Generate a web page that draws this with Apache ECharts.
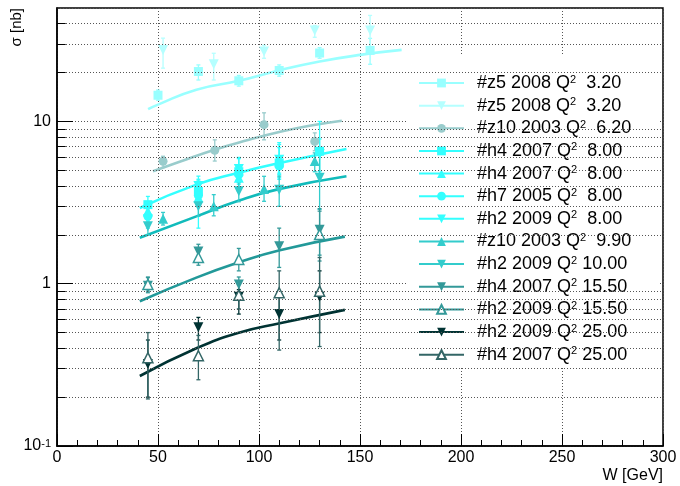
<!DOCTYPE html>
<html>
<head>
<meta charset="utf-8">
<script src="https://cdn.jsdelivr.net/npm/echarts@6/dist/echarts.min.js"></script>
<style>
  html, body { margin: 0; background: #fff; }
  #main { width: 680px; height: 486px; }
</style>
</head>
<body>
<div id="main"></div>
<script>
// points: [W, sigma, sigma low, sigma high]
const z5_2008_sq  = [[50, 14.5, 13.5, 15.6], [70, 20.3, 18.0, 22.3], [90, 17.8, 16.5, 19.2], [110, 20.6, 19.0, 22.3], [130, 26.4, 24.5, 28.5], [155, 27.4, 22.5, 32.5]];
const z5_2008_tri = [[52.5, 27.6, 21.3, 32.6], [77.6, 22.5, 18.0, 26.3], [102.5, 27.0, 24.5, 29.5], [127.6, 36.3, 33.0, 39.0], [155, 36.3, 28.0, 45.0]];
const z10_2003_62 = [[52.5, 5.68, 5.2, 6.1], [78.1, 6.64, 5.7, 7.7], [102.5, 9.55, 7.7, 11.3], [127.6, 7.53, 6.6, 8.5]];
const h4_2007_8_sq  = [[45, 3.07, 2.7, 3.45], [70, 3.7, 3.1, 4.3], [90, 4.9, 4.1, 5.9], [110, 5.55, 4.4, 7.2], [130, 6.55, 4.5, 10.0]];
const h4_2007_8_tri = [[45, 2.8, 2.4, 3.1], [70, 3.4, 2.2, 4.4], [90, 4.5, 3.7, 5.4], [110, 5.75, 4.5, 7.4]];
const h7_2005_8   = [[45, 2.6, 2.3, 2.9], [70, 3.5, 3.1, 3.9], [90, 4.7, 4.2, 5.2], [110, 5.3, 4.7, 5.9]];
const h2_2009_8   = [[45, 2.5, 2.2, 2.8], [70, 4.0, 3.4, 4.6], [90, 5.1, 4.3, 6.0], [110, 5.8, 4.8, 6.9], [130, 6.3, 4.9, 7.8]];
const z10_2003_99 = [[52.5, 2.51, 2.3, 2.75], [77.6, 3.0, 2.62, 3.54], [102.5, 3.84, 3.22, 4.59], [127.6, 5.7, 4.9, 6.4]];
const h2_2009_10  = [[45, 2.26, 2.0, 2.5], [70, 3.0, 2.6, 3.4], [90, 3.71, 3.2, 4.2], [110, 3.8, 3.0, 4.6], [130, 4.49, 2.87, 6.2]];
const h4_2007_155 = [[45, 0.97, 0.9, 1.09], [70, 1.58, 1.4, 1.75], [90, 0.99, 0.88, 1.1], [110, 1.70, 1.26, 2.2], [130, 2.15, 1.38, 2.9]];
const h2_2009_155 = [[45, 0.99, 0.88, 1.1], [70, 1.45, 1.3, 1.65], [90, 1.41, 1.2, 1.65], [130, 2.01, 1.5, 2.8]];
const h2_2009_25  = [[45, 0.32, 0.2, 0.45], [70, 0.54, 0.45, 0.62], [90, 0.83, 0.65, 0.92], [110, 0.65, 0.45, 0.85], [130, 0.83, 0.5, 1.2]];
const h4_2007_25  = [[45, 0.35, 0.195, 0.5], [70, 0.36, 0.256, 0.48], [90, 0.85, 0.7, 1.0], [110, 0.88, 0.39, 1.2], [130, 0.90, 0.41, 1.45]];

// fit curves: [W, sigma]
const fit_320 = [[45.1, 11.9], [50, 12.7], [69, 15.7], [90, 17.8], [110.3, 20.7], [130, 23.4], [150, 25.7], [170.6, 27.6]];
const fit_620 = [[47.5, 4.93], [60, 5.6], [78, 6.7], [95, 7.7], [110, 8.6], [125, 9.4], [141, 10.1]];
const fit_800 = [[41, 2.93], [69, 4.08], [90.5, 4.85], [110.3, 5.55], [143.3, 6.76]];
const fit_990 = [[41, 1.92], [69, 2.6], [90.5, 3.27], [110.3, 3.84], [143.3, 4.59]];
const fit_155 = [[41, 0.78], [69, 1.09], [90.5, 1.36], [110.3, 1.61], [142.5, 1.95]];
const fit_250 = [[41, 0.27], [69, 0.40], [90.5, 0.50], [110.3, 0.57], [142.5, 0.69]];

const yMinor = [0.2, 0.3, 0.4, 0.5, 0.6, 0.7, 0.8, 0.9, 2, 3, 4, 5, 6, 7, 8, 9, 20, 30, 40];

const sets = [
  { key: 'z5sq',  label: '#z5 2008 Q{s|2}  3.20',  data: z5_2008_sq,  color: '#99ffff', symbol: 'rect' },
  { key: 'z5tri', label: '#z5 2008 Q{s|2}  3.20',  data: z5_2008_tri, color: '#b5ffff', symbol: 'triangle', rot: 180 },
  { key: 'z1062', label: '#z10 2003 Q{s|2}  6.20', data: z10_2003_62, color: '#99cccc', symbol: 'circle' },
  { key: 'h4sq8', label: '#h4 2007 Q{s|2}  8.00',  data: h4_2007_8_sq, color: '#33ffff', symbol: 'rect' },
  { key: 'h4tr8', label: '#h4 2007 Q{s|2}  8.00',  data: h4_2007_8_tri, color: '#33ffff', symbol: 'triangle' },
  { key: 'h78',   label: '#h7 2005 Q{s|2}  8.00',  data: h7_2005_8,   color: '#33ffff', symbol: 'circle' },
  { key: 'h28',   label: '#h2 2009 Q{s|2}  8.00',  data: h2_2009_8,   color: '#33ffff', symbol: 'triangle', rot: 180 },
  { key: 'z1099', label: '#z10 2003 Q{s|2}  9.90', data: z10_2003_99, color: '#33cccc', symbol: 'triangle' },
  { key: 'h210',  label: '#h2 2009 Q{s|2} 10.00',  data: h2_2009_10,  color: '#33cccc', symbol: 'triangle', rot: 180 },
  { key: 'h4155', label: '#h4 2007 Q{s|2} 15.50',  data: h4_2007_155, color: '#339999', symbol: 'triangle', rot: 180 },
  { key: 'h2155', label: '#h2 2009 Q{s|2} 15.50',  data: h2_2009_155, color: '#339999', symbol: 'triangle', open: true },
  { key: 'h225',  label: '#h2 2009 Q{s|2} 25.00',  data: h2_2009_25,  color: '#003333', symbol: 'triangle', rot: 180 },
  { key: 'h425',  label: '#h4 2007 Q{s|2} 25.00',  data: h4_2007_25,  color: '#336666', symbol: 'triangle', open: true }
];

const fits = [
  { data: fit_320, color: '#99ffff' },
  { data: fit_620, color: '#99cccc' },
  { data: fit_800, color: '#33ffff' },
  { data: fit_990, color: '#11bbbb' },
  { data: fit_155, color: '#229999' },
  { data: fit_250, color: '#003333' }
];

const LABEL = {};
sets.forEach(s => { LABEL[s.key] = s.label; });

// error bar with small end caps
function errorBar(color) {
  return function (params, api) {
    const x = api.value(0);
    const a = api.coord([x, api.value(2)]);
    const b = api.coord([x, api.value(3)]);
    const st = { stroke: color, lineWidth: 1.3 };
    return {
      type: 'group',
      children: [
        { type: 'line', shape: { x1: a[0], y1: a[1], x2: b[0], y2: b[1] }, style: st },
        { type: 'line', shape: { x1: a[0] - 2, y1: a[1], x2: a[0] + 2, y2: a[1] }, style: st },
        { type: 'line', shape: { x1: b[0] - 2, y1: b[1], x2: b[0] + 2, y2: b[1] }, style: st }
      ]
    };
  };
}

const series = [];

// minor grid lines and minor y ticks
series.push({
  type: 'line',
  data: [],
  z: 1,
  silent: true,
  markLine: {
    silent: true,
    symbol: 'none',
    label: { show: false },
    lineStyle: { color: '#555', type: [1, 2], width: 1 },
    data: yMinor.map(v => ({ yAxis: v }))
  }
});
series.push({
  type: 'line',
  data: [],
  z: 6,
  silent: true,
  markLine: {
    silent: true,
    symbol: 'none',
    label: { show: false },
    lineStyle: { color: '#000', type: 'solid', width: 1 },
    data: yMinor.map(v => [{ coord: [0, v] }, { coord: [4.3, v] }])
  }
});

fits.forEach(f => {
  series.push({
    type: 'line',
    data: f.data,
    smooth: true,
    symbol: 'none',
    z: 2,
    silent: true,
    lineStyle: { color: f.color, width: 2.6 }
  });
});

sets.forEach(s => {
  series.push({
    type: 'custom',
    data: s.data,
    encode: { x: 0, y: 1 },
    z: 3,
    silent: true,
    renderItem: errorBar(s.color)
  });
});

sets.forEach(s => {
  const tri = s.symbol === 'triangle';
  series.push({
    name: s.key,
    type: 'line',
    data: s.data.map(d => [d[0], d[1]]),
    symbol: s.symbol,
    symbolSize: tri ? 10 : 9,
    symbolRotate: s.rot || 0,
    showSymbol: true,
    z: 4,
    silent: true,
    lineStyle: { color: s.color, width: 2, opacity: 0 },
    itemStyle: s.open
      ? { color: '#fff', borderColor: s.color, borderWidth: 1.5 }
      : { color: s.color, borderWidth: 0 }
  });
});

const myChart = echarts.init(document.getElementById('main'));
myChart.setOption({
  animation: false,
  backgroundColor: '#fff',
  textStyle: { fontFamily: 'Liberation Sans' },
  grid: {
    left: 57, right: 17, top: 8, bottom: 40,
    show: true, borderColor: '#000', borderWidth: 1.5, backgroundColor: 'transparent'
  },
  graphic: [{
    type: 'text',
    left: 9, top: 8,
    rotation: Math.PI / 2,
    style: {
      text: 'σ [nb]', fontSize: 15, fontFamily: 'Liberation Sans', fill: '#000'
    }
  }],
  xAxis: {
    type: 'value',
    min: 0, max: 300, interval: 50,
    name: 'W [GeV]',
    nameLocation: 'end',
    nameGap: 0,
    nameTextStyle: { fontSize: 16, color: '#000', align: 'right', verticalAlign: 'top', padding: [22, 0, 0, 0] },
    axisLine: { show: true, lineStyle: { color: '#000', width: 1.5 } },
    axisTick: { show: true, inside: true, length: 12, lineStyle: { color: '#000' } },
    minorTick: { show: true, splitNumber: 5, length: 6, lineStyle: { color: '#000' } },
    axisLabel: { fontSize: 16, color: '#000', margin: 4 },
    splitLine: { show: true, lineStyle: { color: '#555', type: [1, 2], width: 1 } }
  },
  yAxis: {
    type: 'log',
    logBase: 10,
    min: 0.1, max: 50,
    axisLine: { show: true, lineStyle: { color: '#000', width: 1.5 } },
    axisTick: { show: true, inside: true, length: 16, lineStyle: { color: '#000' } },
    axisLabel: {
      fontSize: 16, color: '#000', margin: 6,
      showMaxLabel: false,
      formatter: function (v) {
        const e = Math.round(Math.log10(v));
        if (e === 0) return '1';
        if (e === 1) return '10';
        return '10{s|' + e + '}';
      },
      rich: { s: { fontSize: 11, verticalAlign: 'top', color: '#000' } }
    },
    splitLine: { show: true, lineStyle: { color: '#555', type: [1, 2], width: 1 } }
  },
  legend: {
    orient: 'vertical',
    left: 408,
    top: 56,
    padding: [18, 27, 3, 10],
    backgroundColor: '#fff',
    itemWidth: 45,
    itemHeight: 11,
    itemGap: 4.64,
    selectedMode: false,
    data: sets.map(s => s.key),
    lineStyle: { opacity: 1, width: 2 },
    formatter: name => LABEL[name],
    textStyle: {
      fontSize: 18, color: '#000', lineHeight: 18, padding: [0, 0, 0, 8],
      rich: { s: { fontSize: 11, verticalAlign: 'top', lineHeight: 12, color: '#000' } }
    }
  },
  series: series
});
</script>
</body>
</html>
